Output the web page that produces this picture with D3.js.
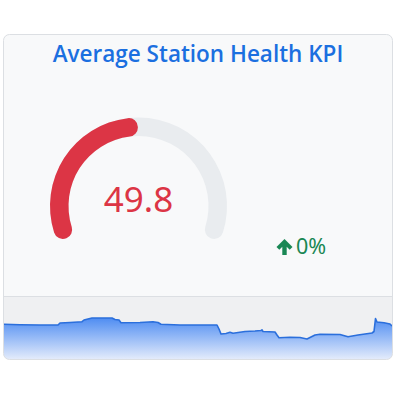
<!DOCTYPE html>
<html><head><meta charset="utf-8">
<script src="https://cdn.jsdelivr.net/npm/d3@7"></script>
<style>html,body{margin:0;padding:0;background:#fff;}svg{display:block;}</style>
</head><body>
<svg id="c" width="400" height="400"></svg>
<script>
const titleText = "Average Station Health KPI";
const kpiValue = 49.8;
const kpiMax = 100;
const changeText = "0%";
const sparkTimes = [0,16,36,54,56,66,78,80,86,88,108,111,115,117,136,149,154,157,176,196,213,215,217,222,226,229,241,251,257,258,259,271,273,275,286,296,303,311,316,336,344,354,368,370,371.5,373,380,386,388];
const sparkValues = [34.7,34.2,34,34,36,36.5,37.3,39,40.5,41,41,39.5,39,36.3,36.5,37.3,36.5,34.7,34,34,34,30,25,25.5,26.7,25.7,27.5,28,28.5,29.2,27.5,27,24,21.3,21.7,21.5,20,24,24.7,24.5,22.3,24,26,27.5,40.5,37,36.2,35,33];

const svg = d3.select("#c");
const card = {x:3.5, y:34.5, w:389, h:325, r:6};
const footY = 296.5;

const defs = svg.append("defs");
defs.append("clipPath").attr("id","cardClip").append("rect")
  .attr("x",card.x).attr("y",card.y).attr("width",card.w).attr("height",card.h).attr("rx",card.r);
const grad = defs.append("linearGradient").attr("id","ag").attr("x1",0).attr("y1",0).attr("x2",0).attr("y2",1);
grad.append("stop").attr("offset","0%").attr("stop-color","#4f8df2");
grad.append("stop").attr("offset","100%").attr("stop-color","#e3ebfb");

svg.append("rect").attr("x",card.x).attr("y",card.y).attr("width",card.w).attr("height",card.h)
  .attr("rx",card.r).attr("fill","#f8f9fa");

const g = svg.append("g").attr("clip-path","url(#cardClip)");
g.append("rect").attr("x",card.x).attr("y",footY).attr("width",card.w).attr("height",card.y+card.h-footY).attr("fill","#eff0f2");
g.append("line").attr("x1",card.x).attr("x2",card.x+card.w).attr("y1",footY).attr("y2",footY).attr("stroke","#dcdfe3");

// sparkline
const sx = d3.scaleLinear().domain([0,388]).range([4,392]);
const sy = d3.scaleLinear().domain([0,62]).range([359,297]);
const pts = sparkTimes.map((t,i)=>[t,sparkValues[i]]);
g.append("path").datum(pts).attr("fill","url(#ag)")
  .attr("d", d3.area().x(d=>sx(d[0])).y0(sy(0)).y1(d=>sy(d[1])));
g.append("path").datum(pts).attr("fill","none").attr("stroke","#2b6fdc").attr("stroke-width",1.6)
  .attr("stroke-linejoin","round")
  .attr("d", d3.line().x(d=>sx(d[0])).y(d=>sy(d[1])));

svg.append("rect").attr("x",card.x).attr("y",card.y).attr("width",card.w).attr("height",card.h)
  .attr("rx",card.r).attr("fill","none").attr("stroke","#dcdfe3");

// title
svg.append("text").attr("x",198).attr("y",62).attr("text-anchor","middle")
  .attr("font-family","'Open Sans', sans-serif").attr("font-size",22.5).attr("font-weight",600)
  .attr("fill","#1b6fe0")
  .text(titleText);

// gauge
const cx = 138.5, cy = 206;
const a0 = -114*Math.PI/180, a1 = 114*Math.PI/180;
const ang = d3.scaleLinear().domain([0,kpiMax]).range([a0,a1]);
const arc = d3.arc().innerRadius(70).outerRadius(88.5).cornerRadius(9);
const gg = svg.append("g").attr("transform",`translate(${cx},${cy})`);
gg.append("path").attr("d",arc({startAngle:a0,endAngle:a1})).attr("fill","#e9ecef");
gg.append("path").attr("d",arc({startAngle:a0,endAngle:ang(kpiValue)})).attr("fill","#dc3545");
gg.append("text").attr("x",0).attr("y",6).attr("text-anchor","middle")
  .attr("font-family","'Noto Sans', sans-serif").attr("font-size",35).attr("fill","#dc3545")
  .text(kpiValue.toFixed(1));

// change indicator
const ch = svg.append("g").attr("transform","translate(284.5,247)");
ch.append("path").attr("d","M0,-8 L8,0 L5.2,2.8 L2.2,-0.2 L2.2,8 L-2.2,8 L-2.2,-0.2 L-5.2,2.8 L-8,0 Z").attr("fill","#198754");
svg.append("text").attr("x",296).attr("y",254).attr("font-family","'Noto Sans', sans-serif")
  .attr("font-size",21.5).attr("fill","#198754").text(changeText);
</script>
</body></html>
